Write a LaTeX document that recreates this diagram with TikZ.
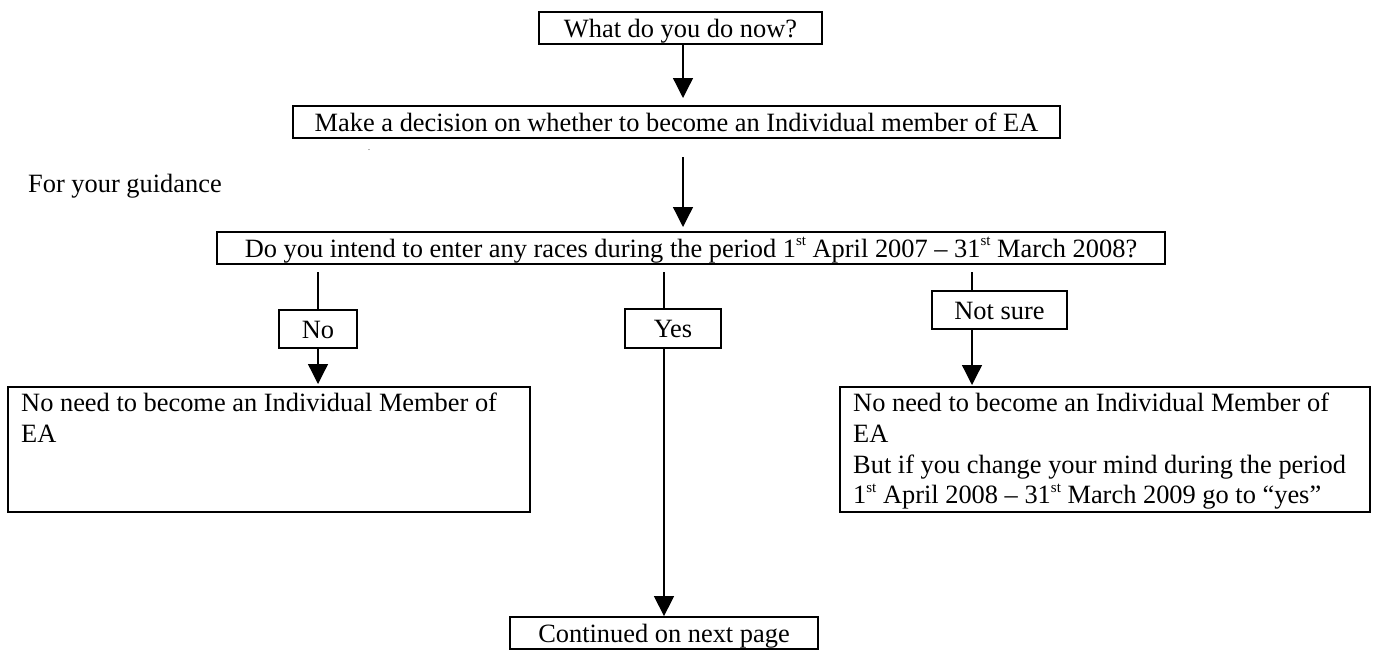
\documentclass[tikz,border=0pt]{standalone}
\usepackage{fontspec}
\setmainfont{Liberation Serif}
\usetikzlibrary{arrows.meta}
\newcommand\mysup[1]{\raisebox{0.42em}{\fontsize{15}{15}\selectfont #1}}
\tikzset{
  box/.style={draw, line width=1.8pt, inner sep=0pt, text height=23pt, text depth=5pt, align=center},
  conn/.style={line width=1.3pt},
  arr/.style={conn, -{Triangle[width=20pt,length=20pt]}},
  txt/.style={inner sep=0pt}
}
\begin{document}
\begin{tikzpicture}[x=1pt, y=-1pt, font=\fontsize{26.4}{30.7}\selectfont]
\useasboundingbox (0,0) rectangle (1375,651);
% boxes
\node[box, minimum width=283pt, minimum height=32pt] (b1) at (680.5,28) {What do you do now?};
\node[box, minimum width=767pt, minimum height=32pt] (b2) at (676.5,122) {Make a decision on whether to become an Individual member of EA};
\node[txt, font=\fontsize{8}{8}\selectfont] (dot) at (369,150) {.};
\node[txt, anchor=base west] (guide) at (28,192) {For your guidance};
\node[box, minimum width=948pt, minimum height=32pt] (b3) at (691,248) {Do you intend to enter any races during the period 1\mysup{st} April 2007 – 31\mysup{st} March 2008?};
\node[box, minimum width=78pt, minimum height=38pt] (no) at (318,329) {No};
\node[box, minimum width=96pt, minimum height=39pt] (yes) at (673,328.5) {Yes};
\node[box, minimum width=135pt, minimum height=38pt] (ns) at (999.5,310) {Not sure};
\node[box, minimum width=522pt, minimum height=125pt] (lb) at (269,449.5) {};
\node[box, minimum width=530pt, minimum height=125pt] (rb) at (1105,449.5) {};
\node[txt, anchor=north west, align=left] (lbt) at (21,393) {No need to become an Individual Member of\\EA};
\node[txt, anchor=north west, align=left] (rbt) at (853,393) {No need to become an Individual Member of\\EA\\But if you change your mind during the period\\1\mysup{st} April 2008 – 31\mysup{st} March 2009 go to “yes”};
\node[box, minimum width=308pt, minimum height=32pt] (cont) at (664,633) {Continued on next page};
% connectors
\coordinate (t1) at (683,98);
\draw[arr] (b1.south -| t1) -- (t1);
\coordinate (s2) at (683,157);
\coordinate (t2) at (683,227);
\draw[arr] (s2) -- (t2);
\coordinate (sn) at (318,272);
\coordinate (tn) at (318,384);
\draw[conn] (sn) -- (no.north);
\draw[arr] (no.south) -- (tn);
\coordinate (sy) at (664,272);
\draw[conn] (sy) -- (sy |- yes.north);
\draw[arr] (yes.south -| sy) -- (cont.north);
\coordinate (sns) at (972,272);
\coordinate (tns) at (972,385);
\draw[conn] (sns) -- (sns |- ns.north);
\draw[arr] (ns.south -| sns) -- (tns);
\end{tikzpicture}
\end{document}
